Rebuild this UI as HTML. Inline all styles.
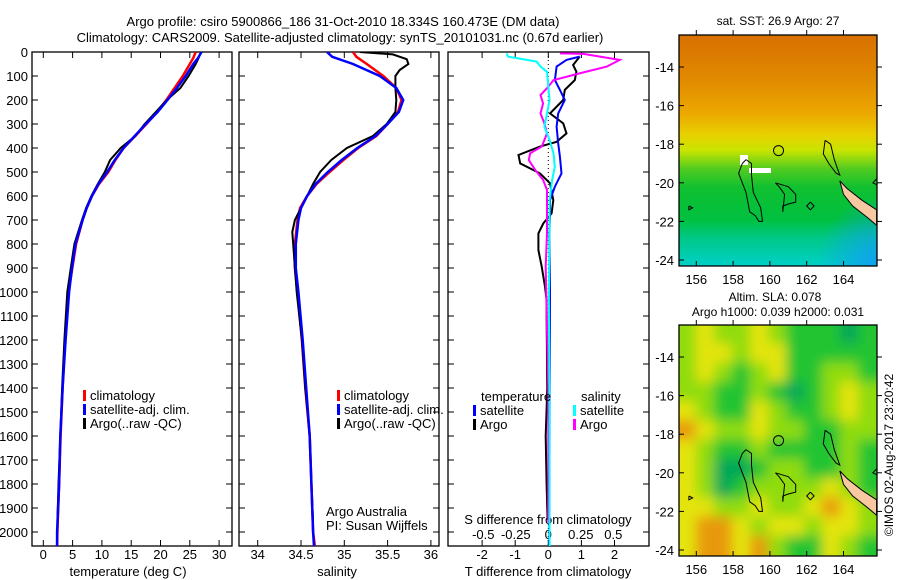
<!DOCTYPE html>
<html><head><meta charset="utf-8"><style>
body{margin:0;background:#fff;}
svg{display:block;font-family:"Liberation Sans",sans-serif;}
text{font-size:13px;fill:#000;}
</style></head><body>
<svg id="fig" width="900" height="580" viewBox="0 0 900 580" xmlns="http://www.w3.org/2000/svg">
<defs>
<linearGradient id="sstg" x1="0" y1="0" x2="0" y2="1">
<stop offset="0" stop-color="#d87000"/><stop offset="0.18" stop-color="#e08800"/>
<stop offset="0.34" stop-color="#eca800"/><stop offset="0.43" stop-color="#e8d000"/>
<stop offset="0.5" stop-color="#c8e400"/><stop offset="0.58" stop-color="#50cc20"/>
<stop offset="0.66" stop-color="#10c030"/><stop offset="0.8" stop-color="#00c040"/>
<stop offset="0.88" stop-color="#00c888"/><stop offset="1" stop-color="#00d0c8"/></linearGradient>
<radialGradient id="bluec" cx="1" cy="1" r="0.3"><stop offset="0" stop-color="#10a0f0"/><stop offset="1" stop-color="#10a0f0" stop-opacity="0"/></radialGradient>
<filter id="blur" x="-0.1" y="-0.1" width="1.2" height="1.2"><feGaussianBlur stdDeviation="6"/></filter>
<clipPath id="m1c"><rect x="679" y="35" width="198" height="231"/></clipPath>
<clipPath id="m2c"><rect x="679" y="325" width="198" height="231"/></clipPath>
<clipPath id="p1c"><rect x="32" y="52" width="200" height="494"/></clipPath>
<clipPath id="p2c"><rect x="239" y="52" width="200" height="494"/></clipPath>
<clipPath id="p3c"><rect x="448" y="52" width="201" height="494"/></clipPath>
</defs>
<text x="343" y="26" text-anchor="middle">Argo profile: csiro 5900866_186 31-Oct-2010 18.334S 160.473E (DM data)</text>
<text x="340" y="42" text-anchor="middle">Climatology: CARS2009. Satellite-adjusted climatology: synTS_20101031.nc (0.67d earlier)</text>
<g id="g1"></g>
<g id="g2"></g>
<g id="g3"></g>
<g id="m1"></g>
<g id="m2"></g>
<text x="778" y="25" text-anchor="middle" style="font-size:12px">sat. SST: 26.9  Argo: 27</text>
<text x="775" y="301" text-anchor="middle" style="font-size:12px">Altim. SLA: 0.078</text>
<text x="778" y="316" text-anchor="middle" style="font-size:12px">Argo h1000: 0.039 h2000: 0.031</text>
<text transform="translate(893,455) rotate(-90)" text-anchor="middle" style="font-size:12px">©IMOS 02-Aug-2017 23:20:42</text>
</svg>
<script>
// ---------- data ----------
const depthsTS = [0,25,50,100,150,200,250,300,350,400,450,500,550,600,650,700,800,900,1000,1200,1400,1600,1800,2000,2060];
const tempClim = [26.0,25.6,25.0,23.8,22.4,21.0,19.4,17.6,15.7,13.7,12.3,11.1,9.5,8.3,7.4,6.7,5.6,4.95,4.3,3.7,3.3,2.95,2.7,2.4,2.35];
const tempSat  = [27.0,26.4,25.6,24.3,22.8,21.2,19.5,17.5,15.6,13.7,12.2,10.9,9.4,8.3,7.4,6.7,5.5,4.9,4.4,3.8,3.3,2.9,2.7,2.35,2.35];
const depthsArgoT = [0,25,50,100,150,200,250,300,350,400,420,450,500,550,600,650,700,800,900,1000,1200,1400,1600,1800,1960];
const tempArgo = [26.9,26.5,26.0,24.8,23.4,21.1,19.2,17.3,15.7,13.2,12.5,11.4,10.5,9.3,8.2,7.3,6.6,5.3,4.7,4.1,3.6,3.2,2.9,2.6,2.4];
const depthsS = [0,20,50,100,150,200,250,300,350,400,450,500,550,600,650,700,800,900,1000,1200,1400,1600,1800,2000,2060];
const salClim = [35.10,35.14,35.26,35.45,35.60,35.66,35.62,35.50,35.37,35.16,34.99,34.83,34.68,34.57,34.49,34.46,34.43,34.43,34.46,34.51,34.55,34.60,34.62,34.64,34.66];
const salSat  = [34.80,34.86,35.10,35.41,35.60,35.68,35.63,35.50,35.36,35.15,34.97,34.81,34.67,34.57,34.50,34.47,34.44,34.44,34.47,34.52,34.56,34.60,34.62,34.64,34.65];
const depthsArgoS = [0,10,30,50,75,100,150,200,250,300,350,400,450,500,550,600,700,750,800,900,1000,1200,1400,1600,1800,1960];
const salArgo = [35.18,35.56,35.72,35.74,35.64,35.59,35.59,35.60,35.59,35.49,35.33,35.03,34.85,34.72,34.64,34.57,34.43,34.40,34.41,34.43,34.45,34.51,34.55,34.60,34.62,34.64];
const dDepthArgoT = [19,54,82,117,158,200,256,297,339,374,394,429,464,506,547,617,672,714,756,825,894,978,1033,1100,1400,1600,1800,1950];
const dTArgo = [0.95,0.75,0.85,0.8,0.5,0.45,0.05,0.45,0.55,0.25,-0.25,-0.9,-0.85,-0.25,0.05,0.15,0.1,-0.15,-0.3,-0.3,-0.2,-0.1,-0.05,-0.05,-0.03,-0.08,-0.05,-0.02];
const dDepthSatT = [19,33,61,117,158,200,256,311,381,436,506,561,617,672,756,1000,1500,2060];
const dTSat = [0.95,0.55,0.25,0.2,0.35,0.5,0.3,0.25,0.3,0.35,0.4,0.2,0.05,0.05,0.03,0.05,0.04,0.03];
const dDepthArgoS = [6,8,33,61,89,117,151,179,214,256,297,339,394,422,450,492,533,575,756,894,1400,1960];
const dSArgo = [0.09,0.27,0.55,0.45,0.24,0.04,-0.01,-0.06,-0.04,-0.06,-0.03,-0.01,-0.05,-0.14,-0.15,-0.1,-0.04,-0.01,-0.01,-0.02,0.0,0.0];
const dDepthSatS = [6,19,40,61,82,144,200,256,311,367,422,478,533,617,1033,1500,2060];
const dSSat = [-0.32,-0.31,-0.09,-0.06,-0.01,0,0.01,-0.01,-0.03,0.01,0.04,0.05,0.03,0.01,0.005,0.01,0.01];
const depthTicks = [0,100,200,300,400,500,600,700,800,900,1000,1100,1200,1300,1400,1500,1600,1700,1800,1900,2000];
const tempTicks = [0,5,10,15,20,25,30];
const salTicks = [34,34.5,35,35.5,36];
const dTTicks = [-2,-1,0,1,2];
const dSTicks = [-0.5,-0.25,0,0.25,0.5];
const lonTicks = [156,158,160,162,164];
const latTicks = [-14,-16,-18,-20,-22,-24];
const slaGrid = ["LYLLYLGGGDG","LYYLYYGGGGG","LYLGLYGGLLG","LLGGLGDGLYL","YLGGYLGGLYL","OYLLYLLGGLL","YLGGLGGGGLG","YLDDGLLGGLG","YLDGLLLLYLG","YYLLYLLYOYL","YOOYLYYLYYL","YOOYOLGGYLG"];
const slaColors = {Y:"#e4e410",L:"#90dc10",G:"#20c430",D:"#00a858",O:"#e89810"};

// ---------- helpers ----------
const NS="http://www.w3.org/2000/svg";
function mk(parent,tag,attrs){const e=document.createElementNS(NS,tag);for(const k in attrs)e.setAttribute(k,attrs[k]);parent.appendChild(e);return e;}
const Y0=52, PXM=0.24;
const yD=d=>Y0+d*PXM;
const xT=v=>43.3+v*5.86;
const xS=v=>257.7+(v-34)*86.6;
const xDT=v=>548.3+v*33.1;
const xDS=v=>548.3+v*130;
function poly(g,xs,ds,xf,color,name,clip,w){
  const pts=xs.map((v,i)=>xf(v).toFixed(1)+","+yD(ds[i]).toFixed(1)).join(" ");
  const p=mk(g,"polyline",{points:pts,fill:"none",stroke:color,"stroke-width":w||2,"clip-path":"url(#"+clip+")"});
  
  
}
function frame(g,x0,x1,name){
  const r=mk(g,"rect",{x:x0,y:52,width:x1-x0,height:494,fill:"none",stroke:"#000","stroke-width":1.3});
  
  
  depthTicks.forEach(d=>{const y=yD(d);mk(g,"line",{x1:x0,x2:x0+6,y1:y,y2:y,stroke:"#000"});mk(g,"line",{x1:x1-6,x2:x1,y1:y,y2:y,stroke:"#000"});});
}
function txt(g,x,y,s,name,anchor,size){const t=mk(g,"text",{x:x,y:y,"text-anchor":anchor||"start"});if(size)t.style.fontSize=size+"px";t.textContent=s;
  
  
  return t;}
function legend(g,x,y,color,label,name){mk(g,"rect",{x:x,y:y-10,width:3,height:11,fill:color});txt(g,x+7,y,label,name);}

// ---------- panel 1 ----------
const g1=document.getElementById("g1");
frame(g1,32,232,"temperature-axes-frame");
depthTicks.forEach(d=>txt(g1,28,yD(d)+5,String(d),"depth-tick-label","end"));
tempTicks.forEach(v=>{const x=xT(v);mk(g1,"line",{x1:x,x2:x,y1:546,y2:540,stroke:"#000"});mk(g1,"line",{x1:x,x2:x,y1:52,y2:58,stroke:"#000"});txt(g1,x,559,String(v),"temperature-tick-label","middle");});
txt(g1,128,576,"temperature (deg C)","temperature-axis-title","middle");
poly(g1,tempClim,depthsTS,xT,"#ff0000","temp-climatology-line","p1c",2.5);
poly(g1,tempArgo,depthsArgoT,xT,"#000","temp-argo-line","p1c");
poly(g1,tempSat,depthsTS,xT,"#0000ff","temp-satellite-line","p1c",2.5);
legend(g1,83,400,"#ff0000","climatology","legend-climatology");
legend(g1,83,414,"#0000ff","satellite-adj. clim.","legend-satellite");
legend(g1,83,428,"#000","Argo(..raw -QC)","legend-argo");

// ---------- panel 2 ----------
const g2=document.getElementById("g2");
frame(g2,239,439,"salinity-axes-frame");
salTicks.forEach(v=>{const x=xS(v);mk(g2,"line",{x1:x,x2:x,y1:546,y2:540,stroke:"#000"});mk(g2,"line",{x1:x,x2:x,y1:52,y2:58,stroke:"#000"});txt(g2,x,559,String(v),"salinity-tick-label","middle");});
txt(g2,337,576,"salinity","salinity-axis-title","middle");
poly(g2,salClim,depthsS,xS,"#ff0000","sal-climatology-line","p2c",2.5);
poly(g2,salArgo,depthsArgoS,xS,"#000","sal-argo-line","p2c");
poly(g2,salSat,depthsS,xS,"#0000ff","sal-satellite-line","p2c",2.5);
legend(g2,337,400,"#ff0000","climatology","legend-climatology");
legend(g2,337,414,"#0000ff","satellite-adj. clim.","legend-satellite");
legend(g2,337,428,"#000","Argo(..raw -QC)","legend-argo");
txt(g2,326,516,"Argo Australia","credit-argo-australia");
txt(g2,326,530,"PI: Susan Wijffels","credit-pi");

// ---------- panel 3 ----------
const g3=document.getElementById("g3");
frame(g3,448,649,"difference-axes-frame");
mk(g3,"line",{x1:548.3,x2:548.3,y1:52,y2:546,stroke:"#000","stroke-dasharray":"1,3"});
dTTicks.forEach(v=>{const x=xDT(v);mk(g3,"line",{x1:x,x2:x,y1:546,y2:540,stroke:"#000"});mk(g3,"line",{x1:x,x2:x,y1:52,y2:58,stroke:"#000"});txt(g3,x,559,String(v),"t-diff-tick-label","middle");});
dSTicks.forEach(v=>txt(g3,xDS(v),539,String(v),"s-diff-tick-label","middle"));
txt(g3,548,524,"S difference from climatology","s-diff-axis-title","middle");
txt(g3,548,576,"T difference from climatology","t-diff-axis-title","middle");
poly(g3,dTArgo,dDepthArgoT,xDT,"#000","t-diff-argo-line","p3c");
poly(g3,dTSat,dDepthSatT,xDT,"#0000ff","t-diff-satellite-line","p3c");
poly(g3,dSArgo,dDepthArgoS,xDS,"#ff00ff","s-diff-argo-line","p3c");
poly(g3,dSSat,dDepthSatS,xDS,"#00ffff","s-diff-satellite-line","p3c");
txt(g3,481,401,"temperature","legend-temperature-header");
legend(g3,473,415,"#0000ff","satellite","legend-t-satellite");
legend(g3,473,429,"#000","Argo","legend-t-argo");
txt(g3,581,401,"salinity","legend-salinity-header");
legend(g3,573,415,"#00ffff","satellite","legend-s-satellite");
legend(g3,573,429,"#ff00ff","Argo","legend-s-argo");

// ---------- maps ----------
const lonX=l=>696.3+(l-156)*18.4;
const latY=(la,top)=>top+32+(-14-la)*19.3;
const islands=[
 [[158.7,-18.8],[159,-19],[159.0,-19.6],[159.1,-20.5],[159.5,-21.3],[159.6,-22],[159.4,-22],[159.2,-21.7],[158.9,-21.5],[158.7,-20.5],[158.5,-20],[158.3,-19.5],[158.5,-19],[158.7,-18.8]],
 [[160.3,-20],[161,-20.2],[161.4,-20.6],[161.4,-21.0],[161,-21.1],[160.7,-21.2],[160.7,-21.5],[160.8,-20.6],[160.5,-20.2],[160.3,-20]],
 [[163,-17.8],[163.3,-18],[163.5,-18.8],[163.8,-19.6],[163.6,-19.5],[163.2,-19],[162.9,-18.5],[163,-17.8]],
 [[165.8,-19.8],[165.6,-20],[165.8,-20.1]],
 [[162.2,-21],[162.4,-21.2],[162.2,-21.4],[162,-21.2],[162.2,-21]],
 [[155.6,-21.2],[155.8,-21.3],[155.6,-21.4],[155.6,-21.2]]
];
const newCal=[[163.8,-19.9],[164.2,-20.3],[165,-20.9],[165.8,-21.4],[165.8,-22.2],[165.3,-21.8],[164.5,-21.2],[164,-20.6],[163.8,-19.9]];
function drawMap(id,top,fillFn,clip,pre){
  const g=document.getElementById(id);
  const inner=mk(g,"g",{"clip-path":"url(#"+clip+")"});
  fillFn(inner);
  const toPts=a=>a.map(p=>lonX(p[0]).toFixed(1)+","+latY(p[1],top).toFixed(1)).join(" ");
  const nc=mk(inner,"polygon",{points:toPts(newCal),fill:"#f8c8a0",stroke:"#000","stroke-width":1});
  
  
  islands.forEach(a=>{const p=mk(inner,"polyline",{points:toPts(a),fill:"none",stroke:"#000","stroke-width":1});
    
    });
  const c=mk(inner,"circle",{cx:lonX(160.47),cy:latY(-18.33,top),r:5,fill:"none",stroke:"#000"});
  
  
  const fr=mk(g,"rect",{x:679,y:top,width:198,height:231,fill:"none",stroke:"#000","stroke-width":1.3});
  
  
  lonTicks.forEach(l=>{const x=lonX(l);mk(g,"line",{x1:x,x2:x,y1:top,y2:top-5,stroke:"#000"});mk(g,"line",{x1:x,x2:x,y1:top+231,y2:top+226,stroke:"#000"});txt(g,x,top+249,String(l),pre+"-lon-label","middle");});
  latTicks.forEach(la=>{const y=latY(la,top);mk(g,"line",{x1:877,x2:882,y1:y,y2:y,stroke:"#000"});mk(g,"line",{x1:679,x2:684,y1:y,y2:y,stroke:"#000"});txt(g,674,y+5,String(la),pre+"-lat-label","end");});
}
drawMap("m1",35,g=>{
  mk(g,"rect",{x:679,y:35,width:198,height:231,fill:"url(#sstg)"});
  mk(g,"rect",{x:679,y:35,width:198,height:231,fill:"url(#bluec)"});
  mk(g,"rect",{x:740,y:155,width:8,height:10,fill:"#fff"});
  mk(g,"rect",{x:749,y:168,width:22,height:5,fill:"#fff"});
},"m1c","map1");
drawMap("m2",325,g=>{
  const b=mk(g,"g",{filter:"url(#blur)"});
  const cw=198/11, ch=231/12;
  slaGrid.forEach((row,r)=>{for(let c=0;c<row.length;c++){
    const x0=c===0?660:679+c*cw-1, x1=c===row.length-1?900:679+(c+1)*cw+1;
    const y0=r===0?305:325+r*ch-1, y1=r===slaGrid.length-1?580:325+(r+1)*ch+1;
    mk(b,"rect",{x:x0,y:y0,width:x1-x0,height:y1-y0,fill:slaColors[row[c]]});}});
},"m2c","map2");
</script>
</body></html>
